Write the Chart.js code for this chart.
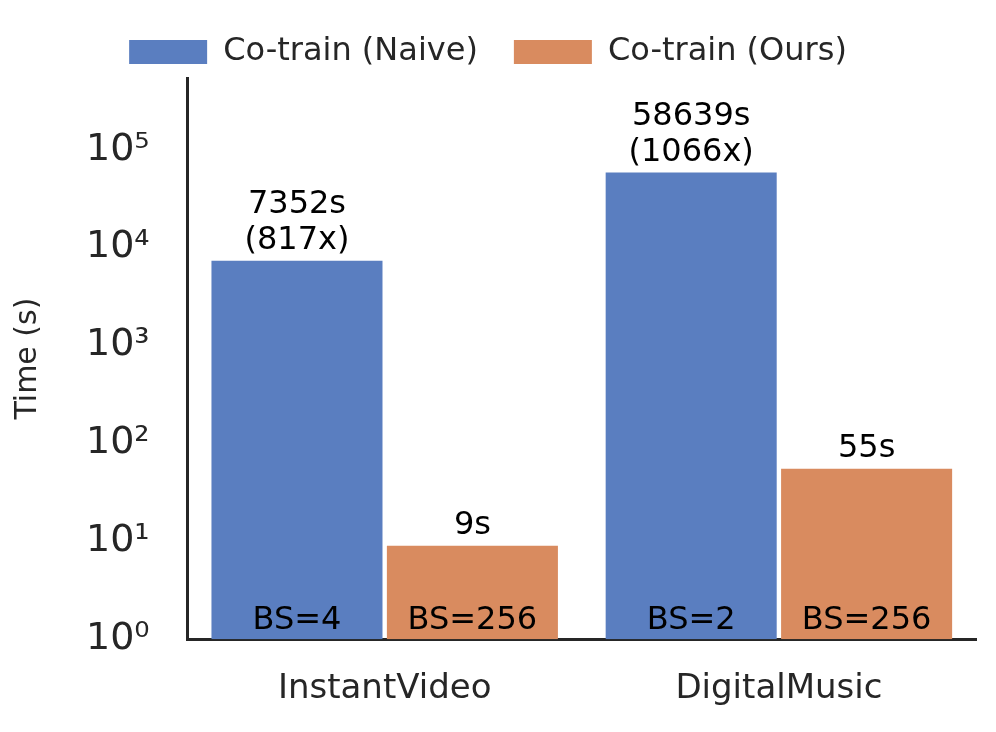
<!DOCTYPE html>
<html>
<head>
<script src="https://cdn.jsdelivr.net/npm/chart.js@4"></script>
<style>
  body { margin: 0; background: #fff; }
  #wrap { width: 996px; height: 732px; }
</style>
</head>
<body>
<div id="wrap"><canvas id="Chart"></canvas></div>
<script>
const categories = ["InstantVideo", "DigitalMusic"];
const naiveTimes = [7352, 58639];
const oursTimes = [9, 55];
const naiveLabels = [["7352s", "(817x)"], ["58639s", "(1066x)"]];
const oursLabels = [["9s"], ["55s"]];
const naiveBS = ["BS=4", "BS=2"];
const oursBS = ["BS=256", "BS=256"];
const supers = ["⁰", "¹", "²", "³", "⁴", "⁵"];

const FONT = "'DejaVu Sans', sans-serif";

// text above and inside the bars
const barText = {
    id: "barText",
    afterDatasetsDraw(chart) {
        const ctx = chart.ctx;
        const y = chart.scales.y;
        ctx.save();
        ctx.fillStyle = "#000";
        ctx.textAlign = "center";
        ctx.font = "32px " + FONT;
        const sets = [[naiveLabels, naiveBS], [oursLabels, oursBS]];
        sets.forEach(([top, bottom], di) => {
            chart.getDatasetMeta(di).data.forEach((bar, i) => {
                const lines = top[i];
                ctx.textBaseline = "bottom";
                lines.forEach((t, k) => {
                    ctx.fillText(t, bar.x, bar.y - 4 - (lines.length - 1 - k) * 36);
                });
                ctx.textBaseline = "alphabetic";
                ctx.fillText(bottom[i], bar.x, y.bottom - 10);
            });
        });
        ctx.restore();
    }
};

new Chart(document.getElementById("Chart"), {
    type: "bar",
    data: {
        labels: categories,
        datasets: [{
            label: "Co-train (Naive)",
            data: naiveTimes,
            backgroundColor: "#5a7ec0",
            },
            {
            label: "Co-train (Ours)",
            data: oursTimes,
            backgroundColor: "#d98b5f",
            }],
        },
    options: {
        responsive: true,
        maintainAspectRatio: false,
        animation: false,
        layout: { padding: { top: 0, right: 20, bottom: 0, left: 0 } },
        datasets: { bar: { categoryPercentage: 0.89, barPercentage: 0.975 } },
        plugins: {
            legend: {
                labels: {
                    font: { family: FONT, size: 32 },
                    color: "#262626",
                    boxWidth: 78,
                    boxHeight: 24,
                    padding: 36,
                    },
                },
            tooltip: { enabled: false },
            },
        scales: {
            x: {
                grid: { display: false },
                border: { color: "#262626", width: 3 },
                ticks: { font: { family: FONT, size: 34 }, color: "#262626", padding: 22 },
                },
            y: {
                type: "logarithmic",
                min: 1,
                max: 540000,
                grid: { display: false },
                border: { color: "#262626", width: 3 },
                title: { display: true, text: "Time (s)", font: { family: FONT, size: 30 }, color: "#262626", padding: 10 },
                afterBuildTicks(axis) {
                    axis.ticks = [0, 1, 2, 3, 4, 5].map(p => ({ value: Math.pow(10, p) }));
                },
                ticks: {
                    font: { family: FONT, size: 38 },
                    color: "#262626",
                    padding: 30,
                    callback: function (value) {
                        const p = Math.round(Math.log10(value));
                        return "10" + supers[p];
                        },
                    },
                },
            },
        },
    plugins: [barText],
});
</script>
</body>
</html>
